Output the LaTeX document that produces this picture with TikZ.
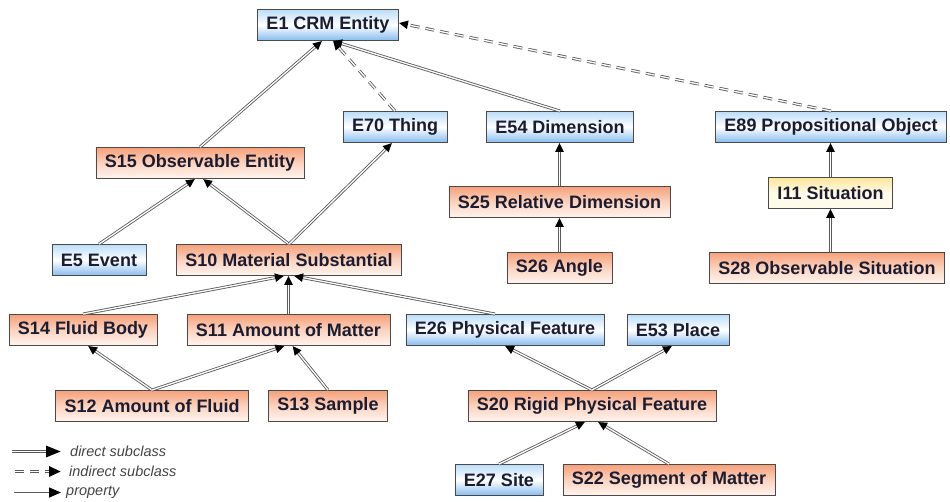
\documentclass[tikz,border=0pt]{standalone}
\usepackage{fontspec}
\setmainfont{Liberation Sans}
\usetikzlibrary{arrows.meta}
\definecolor{boxtext}{HTML}{1C1C30}
\definecolor{boxline}{HTML}{4A4A4A}
\definecolor{edgegray}{HTML}{5A5A5A}
\definecolor{crmtop}{HTML}{BCDDF8}
\definecolor{crmbot}{HTML}{86BBEE}
\definecolor{exttop}{HTML}{F6A07A}
\definecolor{extmid}{HTML}{FBD3C0}
\definecolor{extbot}{HTML}{FFF4EE}
\definecolor{sittop}{HTML}{FDE59A}
\definecolor{sitbot}{HTML}{FFFBEA}
\definecolor{legendtext}{HTML}{444444}
\begin{document}
\begin{tikzpicture}[x=1pt,y=-1pt,
    box/.style={draw=boxline,line width=.9pt,minimum height=31pt,inner xsep=9pt,inner ysep=0pt,
      font=\fontsize{18}{20}\selectfont\bfseries,text=boxtext},
    crm/.style={box,top color=crmtop,bottom color=crmbot,middle color=white},
    ext/.style={box,top color=exttop,bottom color=extbot,middle color=extmid},
    sit/.style={box,top color=sittop,bottom color=sitbot,middle color=sitbot},
    sub/.style n args={2}{draw=edgegray,line width=3pt,
      -{Triangle[length=#1,width=#2,color=black,fill=black]},
      postaction={draw=white,line width=1.3pt,-,shorten >=#1+.5pt}},
    direct/.style={sub={9pt}{8pt}},
    indirect/.style={direct,dash pattern=on 9pt off 6pt},
    bigdirect/.style={sub={15pt}{11pt}},
    bigindirect/.style={sub={12pt}{10pt},dash pattern=on 9pt off 6pt},
    property/.style={draw=edgegray,line width=1.6pt,
      -{Triangle[length=12pt,width=10pt,color=black,fill=black]}},
    legend/.style={anchor=west,inner sep=0pt,font=\fontsize{14.5}{16}\selectfont\itshape,text=legendtext}]
  \useasboundingbox (0,0) rectangle (950,501);
  % classes
  \node[crm] (e1)  at (328,25)  {E1 CRM Entity};
  \node[crm] (e70) at (395,127) {E70 Thing};
  \node[crm] (e54) at (560,127) {E54 Dimension};
  \node[crm] (e89) at (831,127) {E89 Propositional Object};
  \node[ext] (s15) at (200,163) {S15 Observable Entity};
  \node[ext] (s25) at (559.5,202) {S25 Relative Dimension};
  \node[sit] (i11) at (830.5,193) {I11 Situation};
  \node[crm] (e5)  at (99,260)  {E5 Event};
  \node[ext] (s10) at (289,260) {S10 Material Substantial};
  \node[ext] (s26) at (559.5,268) {S26 Angle};
  \node[ext] (s28) at (827,268) {S28 Observable Situation};
  \node[ext] (s14) at (83,330)  {S14 Fluid Body};
  \node[ext] (s11) at (288.5,330) {S11 Amount of Matter};
  \node[crm] (e26) at (505,330) {E26 Physical Feature};
  \node[crm] (e53) at (678,330) {E53 Place};
  \node[ext] (s12) at (152,406) {S12 Amount of Fluid};
  \node[ext] (s13) at (328,406) {S13 Sample};
  \node[ext] (s20) at (592,406) {S20 Rigid Physical Feature};
  \node[crm] (e27) at (499,480) {E27 Site};
  \node[ext] (s22) at (669,480) {S22 Segment of Matter};
  % subclass links
  \draw[direct] (s15.north) -- ([xshift=-6pt]e1.south);
  \draw[indirect] (e70.north) -- ([xshift=5pt]e1.south);
  \draw[direct] (e54.north) -- ([xshift=5pt]e1.south);
  \draw[indirect] (e89.north) -- ([yshift=2pt]e1.east);
  \draw[direct] (e5.north) -- ([xshift=-5pt]s15.south);
  \draw[direct] (s10.north) -- ([xshift=3pt]s15.south);
  \draw[direct] (s10.north) -- ([xshift=-3pt]e70.south);
  \draw[direct] (s14.north) -- ([xshift=-5pt]s10.south);
  \draw[direct] (s11.north) -- (s11.north |- s10.south);
  \draw[direct] ([xshift=-10pt]e26.north) -- ([xshift=5pt]s10.south);
  \draw[direct] (s12.north) -- ([xshift=5pt]s14.south);
  \draw[direct] (s12.north) -- ([xshift=-4pt]s11.south);
  \draw[direct] (s13.north) -- ([xshift=4pt]s11.south);
  \draw[direct] (s20.north) -- (e26.south);
  \draw[direct] (s20.north) -- ([xshift=-6pt]e53.south);
  \draw[direct] (e27.north) -- ([xshift=-7pt]s20.south);
  \draw[direct] (s22.north) -- ([xshift=6pt]s20.south);
  \draw[direct] (s25.north) -- (s25.north |- e54.south);
  \draw[direct] (s26.north) -- (s26.north |- s25.south);
  \draw[direct] (i11.north) -- (i11.north |- e89.south);
  \draw[direct] (i11.south |- s28.north) -- (i11.south);
  % legend
  \coordinate (d0) at (12,451.5); \coordinate (d1) at (61,451.5);
  \coordinate (i0) at (15,471.5); \coordinate (i1) at (61,471.5);
  \coordinate (p0) at (14,492.5); \coordinate (p1) at (61,492.5);
  \draw[bigdirect] (d0) -- (d1);
  \draw[bigindirect] (i0) -- (i1);
  \draw[property] (p0) -- (p1);
  \node[legend] (dl) at (70,451) {direct subclass};
  \node[legend] (il) at (69,471) {indirect subclass};
  \node[legend] (pl) at (66,492) {property};
\end{tikzpicture}
\end{document}
